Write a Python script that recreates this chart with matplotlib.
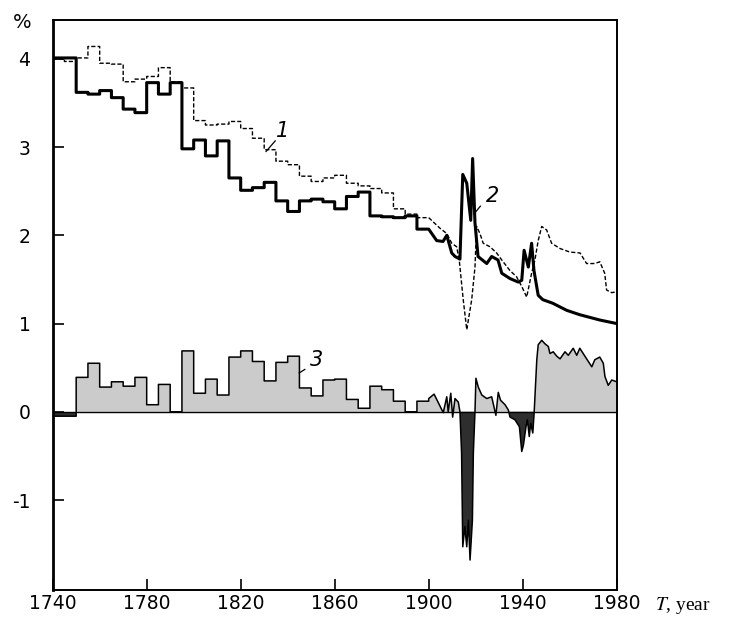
import numpy as np
import matplotlib
matplotlib.use("Agg")
import matplotlib.pyplot as plt

plt.rcParams['axes.unicode_minus'] = False
plt.rcParams['mathtext.fontset'] = 'stix'

# 5-year bins 1740..1895
bin_start = list(range(1740, 1900, 5))
curve1_bins = [4.00, 3.97, 4.01, 4.14, 3.95, 3.94, 3.74, 3.77, 3.80, 3.90, 3.74, 3.67,
               3.30, 3.25, 3.26, 3.29, 3.21, 3.10, 2.97, 2.84, 2.80, 2.67, 2.61, 2.65,
               2.68, 2.59, 2.56, 2.53, 2.48, 2.30, 2.24, 2.20]
curve2_bins = [4.01, 4.01, 3.62, 3.60, 3.64, 3.56, 3.43, 3.39, 3.73, 3.60, 3.73, 2.98,
               3.08, 2.90, 3.07, 2.65, 2.51, 2.54, 2.60, 2.39, 2.27, 2.39, 2.41, 2.38,
               2.30, 2.44, 2.49, 2.22, 2.21, 2.20, 2.22, 2.07]
curve3_bins = [-0.05, -0.05, 0.39, 0.55, 0.28, 0.34, 0.29, 0.39, 0.08, 0.31, 0.0, 0.69,
               0.21, 0.37, 0.19, 0.62, 0.69, 0.57, 0.35, 0.56, 0.63, 0.27, 0.18, 0.36,
               0.37, 0.14, 0.04, 0.29, 0.25, 0.12, 0.0, 0.12]

# annual-ish values after 1900
c1_years = [1900, 1904.8, 1907.7, 1909.8, 1911.9, 1913.0, 1914.7, 1916.2, 1918.3, 1919.7,
            1920.4, 1921.8, 1923.2, 1926.1, 1928.9, 1931.1, 1934.6, 1937.4, 1939.6, 1941.7,
            1943.8, 1945.2, 1946.6, 1948.1, 1950.2, 1952.3, 1955.9, 1960.1, 1964.4, 1967.2,
            1970.7, 1972.8, 1974.9, 1975.7, 1977.9, 1980]
c1_vals = [2.20, 2.08, 2.02, 1.91, 1.87, 1.72, 1.27, 0.93, 1.27, 1.64,
           2.10, 2.02, 1.91, 1.87, 1.80, 1.72, 1.60, 1.53, 1.42, 1.30,
           1.57, 1.72, 1.94, 2.10, 2.06, 1.91, 1.85, 1.81, 1.80, 1.68,
           1.68, 1.70, 1.57, 1.38, 1.35, 1.36]

c2_years = [1900, 1903.4, 1906.1, 1907.7, 1909.8, 1911.2, 1913.3, 1914.5, 1916.2, 1917.9,
            1918.7, 1919.7, 1921.0, 1924.7, 1926.8, 1929.5, 1931.1, 1934.6, 1938.1, 1939.6,
            1940.6, 1942.4, 1943.8, 1944.8, 1946.6, 1948.6, 1952.8, 1958.7, 1964.3, 1972.8,
            1980]
c2_vals = [2.07, 1.94, 1.93, 2.00, 1.80, 1.76, 1.73, 2.69, 2.59, 2.17,
           2.87, 2.14, 1.76, 1.68, 1.76, 1.72, 1.57, 1.51, 1.47, 1.49,
           1.83, 1.64, 1.91, 1.60, 1.32, 1.27, 1.23, 1.15, 1.10, 1.04,
           1.00]

c3_years = [1900, 1902.3, 1906.2, 1907.7, 1908.3, 1909.4, 1910.2, 1911.2, 1912.6, 1913.3,
            1914.0, 1914.5, 1915.4, 1916.2, 1916.9, 1917.6, 1918.6, 1919.0, 1919.7, 1920.1,
            1921.1, 1922.6, 1924.7, 1926.8, 1928.6, 1929.6, 1930.6, 1932.5, 1933.9, 1934.6,
            1936.7, 1938.6, 1939.6, 1940.3, 1941.4, 1942.0, 1942.8, 1943.4, 1944.3, 1944.9,
            1946.0, 1946.6, 1948.1, 1949.5, 1950.9, 1951.6, 1953.0, 1954.5, 1955.9, 1958.0,
            1959.4, 1961.5, 1963.0, 1964.3, 1967.2, 1969.4, 1970.7, 1972.8, 1974.3, 1975.0,
            1976.4, 1977.9, 1980]
c3_vals = [0.15, 0.20, -0.01, 0.17, 0.0, 0.21, -0.06, 0.15, 0.11, 0.0,
           -0.47, -1.53, -1.30, -1.53, -1.23, -1.68, -1.23, -0.47, 0.0, 0.38,
           0.28, 0.19, 0.15, 0.17, -0.04, 0.22, 0.13, 0.08, 0.02, -0.06,
           -0.09, -0.17, -0.45, -0.38, -0.17, -0.09, -0.28, -0.13, -0.24, 0.0,
           0.59, 0.76, 0.81, 0.77, 0.74, 0.66, 0.68, 0.63, 0.60, 0.68,
           0.64, 0.72, 0.64, 0.72, 0.60, 0.51, 0.59, 0.62, 0.55, 0.40,
           0.30, 0.36, 0.34]

x_ticks = [1740, 1780, 1820, 1860, 1900, 1940, 1980]
y_ticks = [-1, 0, 1, 2, 3, 4]


def series(bins, years, vals):
    edges = np.array(bin_start + [1900], dtype=float)
    xs = np.repeat(edges, 2)[1:-1]
    ys = np.repeat(np.array(bins, dtype=float), 2)
    return np.concatenate([xs, years]), np.concatenate([ys, vals])


x1, y1 = series(curve1_bins, c1_years, c1_vals)
x2, y2 = series(curve2_bins, c2_years, c2_vals)
x3, y3 = series(curve3_bins, c3_years, c3_vals)

fig = plt.figure(figsize=(7.43, 6.19), dpi=100)
ax = fig.add_axes([0.0709, 0.0468, 0.7591, 0.9209])

ax.fill_between(x3, y3, 0, where=y3 >= 0, interpolate=True,
                facecolor='#cbcbcb', edgecolor='none', lw=0)
ax.fill_between(x3, y3, 0, where=y3 <= 0, interpolate=True,
                facecolor='#2e2e2e', edgecolor='none', lw=0)
ax.plot(x3, y3, color='black', lw=1.1)
ax.axhline(0, color='black', lw=1.0)

ax.plot(x1, y1, color='black', lw=1.0, dashes=(3, 1.5))
ax.plot(x2, y2, color='black', lw=2.2)

# curve labels with short leaders
lab = dict(fontsize=15, style='italic', color='black', ha='center', va='center')
ax.text(1838.0, 3.18, '1', **lab)
ax.plot([1834.7, 1830.8], [3.07, 2.95], color='black', lw=0.9)
ax.text(1927.2, 2.44, '2', **lab)
ax.plot([1922.0, 1919.2], [2.33, 2.24], color='black', lw=0.9)
ax.text(1852.3, 0.59, '3', **lab)
ax.plot([1847.3, 1844.9], [0.48, 0.44], color='black', lw=0.9)

ax.set_xlim(1740, 1980)
ax.set_ylim(-2.02, 4.44)
ax.set_xticks(x_ticks)
ax.set_yticks(y_ticks)
ax.set_yticklabels([str(v) for v in y_ticks])
ax.tick_params(direction='in', length=8, width=1.2, labelsize=13.5)
ax.tick_params(axis='x', pad=3)
ax.tick_params(axis='y', pad=16)
for s in ax.spines.values():
    s.set_linewidth(1.4)
ax.spines['left'].set_linewidth(2.0)

fig.text(22 / 743, 1 - 22 / 619, '%', fontsize=14, ha='center', va='center')
fig.text(655 / 743, 1 - 606 / 619, r'$T$, year', fontsize=14,
         family='Liberation Serif', ha='left', va='center')

fig.savefig('out.png', dpi=100)
